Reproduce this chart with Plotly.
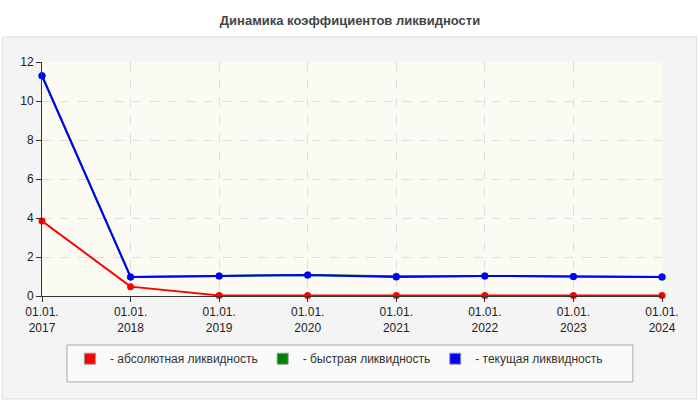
import plotly.graph_objects as go

dates = ["01.01.<br>2017", "01.01.<br>2018", "01.01.<br>2019", "01.01.<br>2020",
         "01.01.<br>2021", "01.01.<br>2022", "01.01.<br>2023", "01.01.<br>2024"]
absolute = [3.85, 0.48, 0.03, 0.03, 0.03, 0.03, 0.03, 0.03]
quick = [11.3, 0.98, 1.03, 1.08, 1.01, 1.03, 1.0, 0.97]
current = [11.3, 0.98, 1.03, 1.08, 0.98, 1.03, 1.0, 0.97]
names = ["- абсолютная ликвидность", "- быстрая ликвидность", "- текущая ликвидность"]
colors = ["#ff0000", "#008000", "#0000ff"]

x = list(range(len(dates)))
fig = go.Figure()
for vals, col in [(quick, colors[1]), (absolute, colors[0]), (current, colors[2])]:
    fig.add_trace(go.Scatter(x=x, y=vals, mode="lines+markers",
                             line=dict(color=col, width=2),
                             marker=dict(color=col, size=7),
                             showlegend=False, cliponaxis=False, hoverinfo="skip"))
for n, c in zip(names, colors):
    fig.add_trace(go.Scatter(x=[None], y=[None], mode="markers", name=n,
                             marker=dict(symbol="square", size=11, color=c,
                                         line=dict(color="#999999", width=1))))

fig.update_layout(
    width=700, height=400,
    margin=dict(l=42, r=38, t=62, b=104, autoexpand=False),
    paper_bgcolor="#ffffff",
    plot_bgcolor="rgba(0,0,0,0)",
    font=dict(family="Liberation Sans, Arial, sans-serif", size=12, color="#222222"),
    title=dict(text="<b>Динамика коэффициентов ликвидности</b>", x=0.5, xanchor="center",
               y=0.95, yanchor="middle", yref="container",
               font=dict(size=13, color="#444444")),
    shapes=[
        dict(type="rect", xref="paper", yref="paper", x0=-0.064, x1=1.056, y0=-0.44, y1=1.107,
             fillcolor="#f4f4f4", line=dict(color="#dddddd", width=1), layer="below"),
        dict(type="rect", xref="paper", yref="paper", x0=0, x1=1, y0=0, y1=1,
             fillcolor="#fbfbf3", line=dict(width=0), layer="below"),
        dict(type="rect", xref="paper", yref="paper", x0=0.0403, x1=0.953, y0=-0.3675, y1=-0.2094,
             fillcolor="#fafafa", line=dict(color="#aaaaaa", width=1), layer="below"),
    ],
    legend=dict(orientation="h", x=0.045, xanchor="left", y=-0.268, yanchor="middle",
                bgcolor="rgba(0,0,0,0)", borderwidth=0, itemwidth=30,
                font=dict(size=12, color="#333333")),
)
fig.update_xaxes(range=[0, 7], tickmode="array", tickvals=x, ticktext=dates,
                 showgrid=True, gridcolor="#dddddd", griddash="dash", gridwidth=1,
                 showline=True, linecolor="#333333", linewidth=1,
                 ticks="outside", ticklen=5, tickcolor="#333333", zeroline=False,
                 tickfont=dict(size=12, color="#222222"))
fig.update_yaxes(range=[0, 12], dtick=2,
                 showgrid=True, gridcolor="#dddddd", griddash="dash", gridwidth=1,
                 showline=True, linecolor="#333333", linewidth=1,
                 ticks="outside", ticklen=5, tickcolor="#333333", zeroline=False,
                 tickfont=dict(size=12, color="#222222"))
fig.write_html("out.html")
